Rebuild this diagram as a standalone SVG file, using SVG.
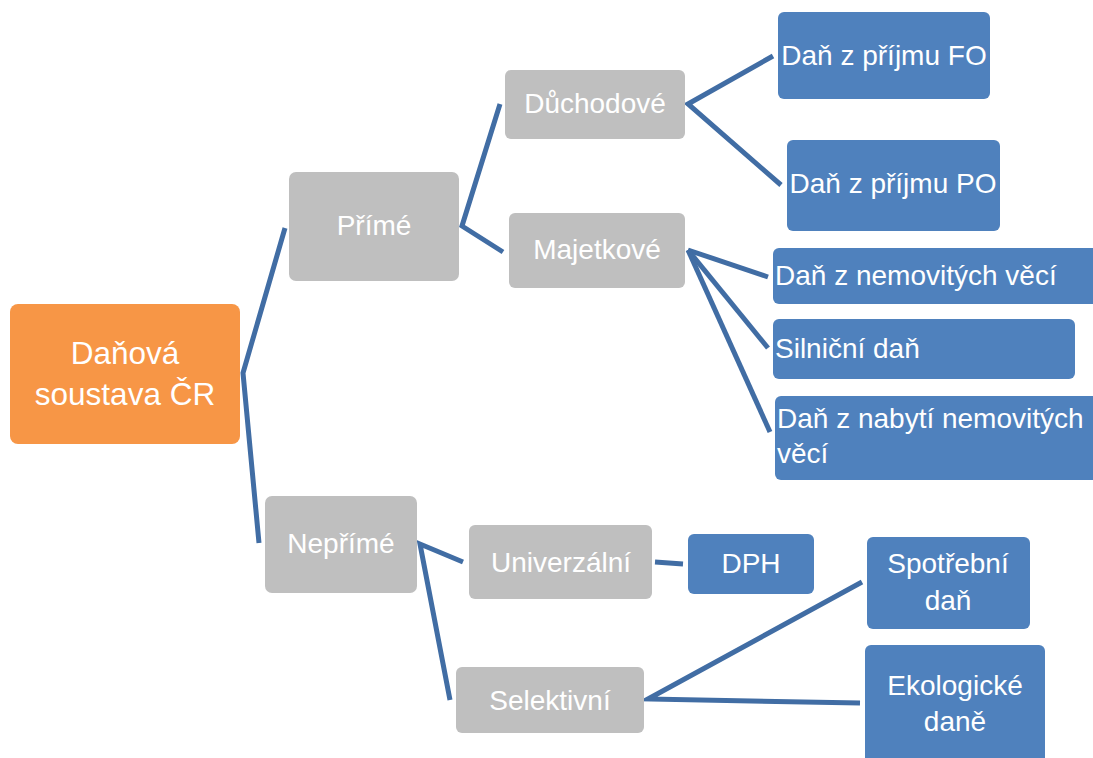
<svg xmlns="http://www.w3.org/2000/svg" width="1093" height="758" viewBox="0 0 1093 758">
<style>
  .root{fill:#F79646;}
  .mid{fill:#BFBFBF;}
  .leaf{fill:#4F81BD;}
  text{font-family:"Liberation Sans","Noto Sans",sans-serif;fill:#FFFFFF;}
  .t30{font-size:31.5px;text-anchor:middle;}
  .t26{font-size:28px;text-anchor:middle;}
  .tl{font-size:28px;text-anchor:start;}
  .conn line, .conn polyline{stroke:#416DA4;stroke-width:5;fill:none;stroke-linejoin:miter;}
</style>
<rect width="1093" height="758" fill="#FFFFFF"/>
<g class="conn" id="connectors">
  <polyline points="285,228 243,373 259,543"/>
  <polyline points="500,104 462,226 503,252"/>
  <polyline points="773,56 688,104 781,185"/>
  <line x1="688" y1="250" x2="768" y2="277"/>
  <line x1="688" y1="250" x2="768" y2="348"/>
  <line x1="688" y1="250" x2="770" y2="432"/>
  <polyline points="463,562 420,544 450,700"/>
  <line x1="655" y1="562" x2="683" y2="564"/>
  <polyline points="862,582 648,699 860,703"/>
</g>
<g id="n-root">
  <rect class="root" x="10" y="304" width="230" height="140" rx="8"/>
  <text class="t30" x="125" y="364">Daňová</text>
  <text class="t30" x="125" y="405">soustava ČR</text>
</g>
<g id="n-prime">
  <rect class="mid" x="289" y="172" width="170" height="109" rx="7"/>
  <text class="t26" x="374" y="235">Přímé</text>
</g>
<g id="n-neprime">
  <rect class="mid" x="265" y="496" width="152" height="97" rx="7"/>
  <text class="t26" x="341" y="553">Nepřímé</text>
</g>
<g id="n-duchodove">
  <rect class="mid" x="505" y="70" width="180" height="69" rx="6"/>
  <text class="t26" x="595" y="113">Důchodové</text>
</g>
<g id="n-majetkove">
  <rect class="mid" x="509" y="213" width="176" height="75" rx="6"/>
  <text class="t26" x="597" y="259">Majetkové</text>
</g>
<g id="n-univerzalni">
  <rect class="mid" x="469" y="525" width="183" height="74" rx="6"/>
  <text class="t26" x="561" y="572">Univerzální</text>
</g>
<g id="n-selektivni">
  <rect class="mid" x="456" y="667" width="188" height="66" rx="6"/>
  <text class="t26" x="550" y="710">Selektivní</text>
</g>
<g id="n-fo">
  <rect class="leaf" x="778" y="12" width="212" height="87" rx="6"/>
  <text class="t26" x="884" y="65">Daň z příjmu FO</text>
</g>
<g id="n-po">
  <rect class="leaf" x="787" y="140" width="213" height="91" rx="6"/>
  <text class="t26" x="893" y="193">Daň z příjmu PO</text>
</g>
<g id="n-nemovitosti">
  <rect class="leaf" x="773" y="248" width="330" height="56" rx="6"/>
  <text class="tl" x="775" y="285">Daň z nemovitých věcí</text>
</g>
<g id="n-silnicni">
  <rect class="leaf" x="773" y="319" width="302" height="60" rx="6"/>
  <text class="tl" x="775" y="358">Silniční daň</text>
</g>
<g id="n-nabyti">
  <rect class="leaf" x="775" y="396" width="330" height="84" rx="6"/>
  <text class="tl" x="777" y="428">Daň z nabytí nemovitých</text>
  <text class="tl" x="777" y="463">věcí</text>
</g>
<g id="n-dph">
  <rect class="leaf" x="688" y="534" width="126" height="60" rx="6"/>
  <text class="t26" x="751" y="573">DPH</text>
</g>
<g id="n-spotrebni">
  <rect class="leaf" x="867" y="537" width="163" height="92" rx="6"/>
  <text class="t26" x="948" y="573">Spotřební</text>
  <text class="t26" x="948" y="610">daň</text>
</g>
<g id="n-ekologicke">
  <rect class="leaf" x="865" y="645" width="180" height="125" rx="6"/>
  <text class="t26" x="955" y="695">Ekologické</text>
  <text class="t26" x="955" y="731">daně</text>
</g>
</svg>
